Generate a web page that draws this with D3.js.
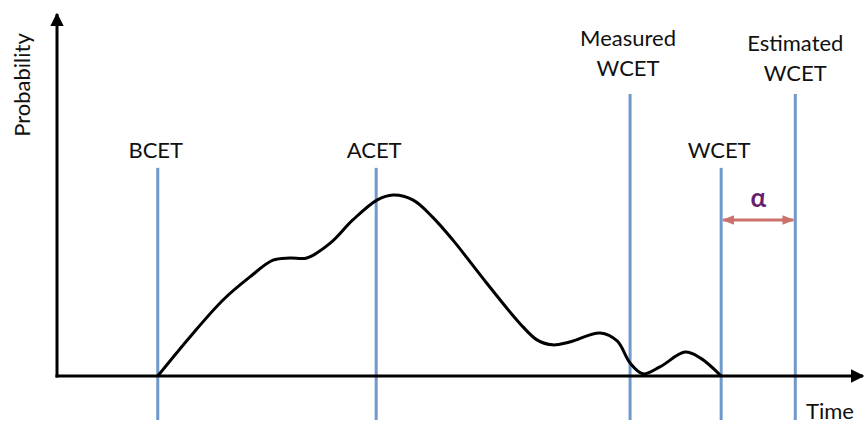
<!DOCTYPE html>
<html lang="en">
<head>
<meta charset="UTF-8" />
<title>WCET</title>
<script src="https://cdn.jsdelivr.net/npm/d3@7"></script>
<style>
  body { margin: 0; background: #fff; }
  text { font-family: Lato, "Open Sans", sans-serif; fill: #111; }
</style>
</head>
<body>
<div id="chart"></div>
<script>
// probability curve (time 0-100, probability 0-100)
const curveTime = [12.5, 16.5, 20.6, 23.9, 26.8, 28.9, 31.0, 33.9, 36.7, 39.7, 41.7, 44.2, 46.6, 49.1, 53.3, 57.4, 59.6, 61.5, 63.6, 67.4, 69.5, 71.1, 72.7, 74.8, 77.9, 79.8, 82.4];
const curveProb = [0, 10.8, 21.0, 27.3, 32.0, 32.6, 32.6, 36.7, 43.1, 48.6, 50.0, 48.6, 43.9, 37.6, 25.7, 14.6, 9.9, 8.6, 9.4, 11.9, 9.7, 3.6, 0.6, 2.5, 6.6, 5.0, 0];

// vertical markers
const markerNames = ["BCET", "ACET", "Measured\nWCET", "WCET", "Estimated\nWCET"];
const markerTime = [12.5, 39.6, 71.1, 82.4, 91.6];
const markerTop = [57.5, 57.5, 77.9, 57.5, 77.9];   // probability where the line starts

const width = 864, height = 423;

const svg = d3.select("#chart")
  .append("svg")
  .attr("width", width)
  .attr("height", height);

const x = d3.scaleLinear().domain([0, 100]).range([57, 863]);
const y = d3.scaleLinear().domain([0, 100]).range([376, 14]);

const defs = svg.append("defs");
defs.append("marker")
  .attr("id", "axisHead")
  .attr("viewBox", "0 0 10 10")
  .attr("refX", 9).attr("refY", 5)
  .attr("markerWidth", 4.5).attr("markerHeight", 4.5)
  .attr("markerUnits", "strokeWidth")
  .attr("orient", "auto")
  .append("path").attr("d", "M0,0 L10,5 L0,10 Z").attr("fill", "#000");
defs.append("marker")
  .attr("id", "redHead")
  .attr("viewBox", "0 0 10 10")
  .attr("refX", 9).attr("refY", 5)
  .attr("markerWidth", 4).attr("markerHeight", 4)
  .attr("markerUnits", "strokeWidth")
  .attr("orient", "auto-start-reverse")
  .append("path").attr("d", "M0,1 L10,5 L0,9 Z").attr("fill", "#c9716a");

// vertical blue lines
svg.selectAll(".marker")
  .data(markerTime)
  .enter().append("line")
  .attr("class", "marker")
  .attr("x1", d => x(d)).attr("x2", d => x(d))
  .attr("y1", (d, i) => y(markerTop[i]))
  .attr("y2", height - 3)
  .attr("stroke", "#6f98cb")
  .attr("stroke-width", 3);

// labels
markerNames.forEach((name, i) => {
  const lines = name.split("\n");
  const t = svg.append("text")
    .attr("text-anchor", "middle")
    .attr("font-size", 22)
    .attr("x", x(markerTime[i]));
  const base = lines.length == 1 ? y(markerTop[i]) - 10 : y(markerTop[i]) - 48;
  lines.forEach((l, j) => {
    t.append("tspan").attr("x", x(markerTime[i]) + (i == 4 ? 0 : -2)).attr("y", base + j * 30 + (i == 4 ? 5 : 0)).text(l);
  });
});

// axes
svg.append("line")
  .attr("x1", x(0)).attr("x2", x(0))
  .attr("y1", y(0) + 1.5).attr("y2", y(100))
  .attr("stroke", "#000").attr("stroke-width", 3)
  .attr("marker-end", "url(#axisHead)");
svg.append("line")
  .attr("x1", x(0) - 1.5).attr("x2", x(100))
  .attr("y1", y(0)).attr("y2", y(0))
  .attr("stroke", "#000").attr("stroke-width", 3)
  .attr("marker-end", "url(#axisHead)");

// curve
const pts = curveTime.map((t, i) => [t, curveProb[i]]);
svg.append("path")
  .datum(pts)
  .attr("fill", "none")
  .attr("stroke", "#000")
  .attr("stroke-width", 3)
  .attr("stroke-linejoin", "round")
  .attr("d", d3.line().x(d => x(d[0])).y(d => y(d[1])).curve(d3.curveCatmullRom.alpha(0.5)));

// alpha double arrow
svg.append("line")
  .attr("x1", x(markerTime[3]) + 2).attr("x2", x(markerTime[4]) - 2)
  .attr("y1", 220).attr("y2", 220)
  .attr("stroke", "#c9716a").attr("stroke-width", 3)
  .attr("marker-start", "url(#redHead)")
  .attr("marker-end", "url(#redHead)");
svg.append("text")
  .attr("x", (x(markerTime[3]) + x(markerTime[4])) / 2)
  .attr("y", 207)
  .attr("text-anchor", "middle")
  .attr("font-size", 26)
  .attr("font-weight", "bold")
  .style("fill", "#6a1f6e")
  .text("α");

// axis titles
svg.append("text")
  .attr("transform", "translate(30,85) rotate(-90)")
  .attr("text-anchor", "middle")
  .attr("font-size", 22)
  .text("Probability");
svg.append("text")
  .attr("x", 806).attr("y", 419)
  .attr("font-size", 22)
  .text("Time");
</script>
</body>
</html>
